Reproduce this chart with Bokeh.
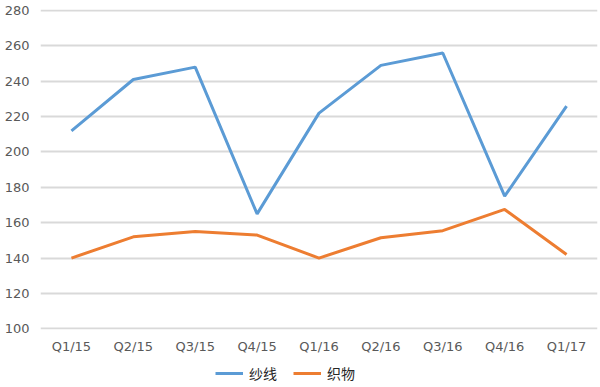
from bokeh.plotting import figure
from bokeh.layouts import column
from bokeh.models import FactorRange, Range1d, FixedTicker, Legend, LegendItem
from bokeh.embed import file_html
from bokeh.resources import INLINE

quarters = ["Q1/15", "Q2/15", "Q3/15", "Q4/15", "Q1/16", "Q2/16", "Q3/16", "Q4/16", "Q1/17"]
yarn = [212, 241, 248, 165, 222, 249, 256, 175, 226]
fabric = [140, 152, 155, 153, 140, 151.5, 155.5, 167.5, 142]
y_ticks = [100, 120, 140, 160, 180, 200, 220, 240, 260, 280]
series_names = ["纱线", "织物"]
colors = ["#5B9BD5", "#ED7D31"]

p = figure(width=600, height=359,
           x_range=FactorRange(*quarters, range_padding=0),
           y_range=Range1d(99.6, 280.6),
           output_backend="svg", toolbar_location=None,
           min_border_left=40, min_border_right=3, min_border_top=9, min_border_bottom=30)
p.outline_line_color = None
p.background_fill_color = "white"
p.border_fill_color = "white"

p.line(quarters, yarn, line_color=colors[0], line_width=3)
p.line(quarters, fabric, line_color=colors[1], line_width=3)

p.xgrid.grid_line_color = None
p.ygrid.grid_line_color = "#D9D9D9"
p.ygrid.grid_line_width = 2
p.yaxis.ticker = FixedTicker(ticks=y_ticks)

for ax in (p.xaxis[0], p.yaxis[0]):
    ax.axis_line_color = None
    ax.major_tick_line_color = None
    ax.minor_tick_line_color = None
    ax.major_tick_out = 0
    ax.major_tick_in = 0
    ax.minor_tick_out = 0
    ax.minor_tick_in = 0
    ax.major_label_text_color = "#595959"
    ax.major_label_text_font = "DejaVu Sans"
    ax.major_label_text_font_size = "13px"
p.xaxis.major_label_standoff = 9
p.yaxis.major_label_standoff = 11

# legend strip: same series, kept outside its visible range so only the legend shows
pl = figure(width=600, height=28,
            x_range=FactorRange(*quarters, range_padding=0), y_range=Range1d(0, 1),
            output_backend="svg", toolbar_location=None,
            x_axis_type=None, y_axis_type=None,
            min_border_left=40, min_border_right=3, min_border_top=0, min_border_bottom=0)
pl.outline_line_color = None
pl.xgrid.visible = False
pl.ygrid.visible = False
pl.background_fill_color = "white"
pl.border_fill_color = "white"
l1 = pl.line(quarters, yarn, line_color=colors[0], line_width=3)
l2 = pl.line(quarters, fabric, line_color=colors[1], line_width=3)
legend = Legend(items=[LegendItem(label=series_names[0], renderers=[l1]),
                       LegendItem(label=series_names[1], renderers=[l2])],
                orientation="horizontal", location=(175, 4),
                border_line_color=None, background_fill_alpha=0,
                padding=0, margin=0, spacing=16, glyph_width=28, glyph_height=20,
                label_height=20, label_standoff=6,
                label_text_font="Noto Sans CJK SC", label_text_font_size="14px",
                label_text_color="#262626")
pl.add_layout(legend)

layout = column(p, pl, spacing=0)
open("out.html", "w").write(file_html(layout, INLINE))
